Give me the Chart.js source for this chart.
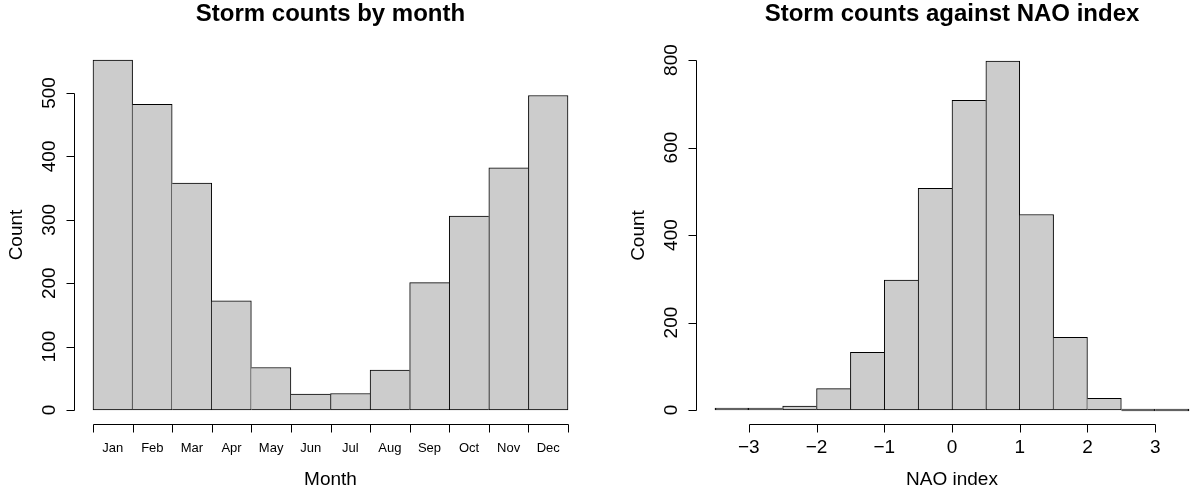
<!DOCTYPE html>
<html lang="en">
<head>
  <meta charset="UTF-8" />
  <title>Storm counts</title>
  <script src="https://cdn.jsdelivr.net/npm/chart.js"></script>
  <style>
    html, body { margin: 0; padding: 0; overflow: hidden; background: #fff; width: 1190px; height: 491px; }
    canvas { position: absolute; top: 0; }
    #monthChart { left: 0; }
    #naoChart { left: 595px; }
  </style>
</head>
<body>
  <canvas id="monthChart" width="595" height="491"></canvas>
  <canvas id="naoChart" width="640" height="491"></canvas>

  <script>
    // left panel: storms per month
    const months = ['Jan', 'Feb', 'Mar', 'Apr', 'May', 'Jun', 'Jul', 'Aug', 'Sep', 'Oct', 'Nov', 'Dec'];
    const monthCounts = [552, 482, 358, 172, 67, 25, 26, 63, 201, 306, 382, 496];
    const monthBreaks = [0, 1, 2, 3, 4, 5, 6, 7, 8, 9, 10, 11, 12];
    const monthYTicks = [0, 100, 200, 300, 400, 500];

    // right panel: storms against NAO index
    const naoBreaks = [-3.5, -3, -2.5, -2, -1.5, -1, -0.5, 0, 0.5, 1, 1.5, 2, 2.5, 3, 3.5];
    const naoCounts = [2, 2, 9, 49, 132, 297, 507, 708, 798, 447, 166, 27, 0, 0];
    const naoXTicks = [-3, -2, -1, 0, 1, 2, 3];
    const naoYTicks = [0, 200, 400, 600, 800];

    const FONT = '"Liberation Sans", Arial, Helvetica, sans-serif';

    function histPoints(breaks, counts) {
      return counts.map((c, i) => ({ x: (breaks[i] + breaks[i + 1]) / 2, y: c }));
    }

    // R draws each cell as a rectangle, so a shared edge should only be one line
    function edgeWidths(counts) {
      return ctx => {
        const i = ctx.dataIndex, c = counts[i];
        return {
          top: 1,
          bottom: 1,
          left: (i === 0 || c > counts[i - 1]) ? 1 : 0,
          right: (i === counts.length - 1 || c >= counts[i + 1]) ? 1 : 0
        };
      };
    }

    // R-style range padding (4% each side)
    function pad(lo, hi) {
      const d = (hi - lo) * 0.04;
      return [lo - d, hi + d];
    }

    function minus(v) {
      return v < 0 ? '\u2212' + Math.abs(v) : String(v);
    }

    const rAxes = {
      id: 'rAxes',
      afterDraw(chart, args, o) {
        const { ctx, chartArea: a, scales: { x, y } } = chart;
        ctx.save();
        ctx.strokeStyle = '#000';
        ctx.fillStyle = '#000';
        ctx.lineWidth = 1;

        const cx = (a.left + a.right) / 2;
        ctx.font = 'bold 24px ' + FONT;
        ctx.textAlign = 'center';
        ctx.textBaseline = 'alphabetic';
        ctx.fillText(o.title, cx, 21);

        // y axis
        const ax = Math.round(a.left) + 0.5;
        const yp = v => Math.round(y.getPixelForValue(v)) + 0.5;
        ctx.beginPath();
        ctx.moveTo(ax, yp(o.yTicks[0]));
        ctx.lineTo(ax, yp(o.yTicks[o.yTicks.length - 1]));
        o.yTicks.forEach(v => { ctx.moveTo(ax, yp(v)); ctx.lineTo(ax - 8, yp(v)); });
        ctx.stroke();

        ctx.font = '19px ' + FONT;
        ctx.textBaseline = 'middle';
        o.yTicks.forEach(v => {
          ctx.save();
          ctx.translate(ax - 25, y.getPixelForValue(v));
          ctx.rotate(-Math.PI / 2);
          ctx.fillText(String(v), 0, 0);
          ctx.restore();
        });
        ctx.save();
        ctx.translate(ax - 58, (a.top + a.bottom) / 2);
        ctx.rotate(-Math.PI / 2);
        ctx.fillText(o.yTitle, 0, 0);
        ctx.restore();

        // x axis
        const ay = Math.round(a.bottom) + 0.5;
        const xp = v => Math.round(x.getPixelForValue(v)) + 0.5;
        ctx.beginPath();
        ctx.moveTo(xp(o.xTicks[0]), ay);
        ctx.lineTo(xp(o.xTicks[o.xTicks.length - 1]), ay);
        o.xTicks.forEach(v => { ctx.moveTo(xp(v), ay); ctx.lineTo(xp(v), ay + 8); });
        ctx.stroke();

        ctx.font = o.xLabelSize + 'px ' + FONT;
        o.xLabels.forEach(l => ctx.fillText(l.text, x.getPixelForValue(l.at), 448));

        ctx.font = '19px ' + FONT;
        ctx.fillText(o.xTitle, cx, 480);
        ctx.restore();
      }
    };

    function makeHist(id, breaks, counts, pads, axes) {
      const [xmin, xmax] = pad(breaks[0], breaks[breaks.length - 1]);
      const [ymin, ymax] = pad(0, Math.max(...counts));
      return new Chart(document.getElementById(id), {
        type: 'bar',
        data: {
          datasets: [{
            data: histPoints(breaks, counts),
            backgroundColor: '#cccccc',
            borderColor: '#000000',
            borderWidth: edgeWidths(counts),
            borderSkipped: false,
            minBarLength: 2,
            barPercentage: 1,
            categoryPercentage: 1
          }]
        },
        options: {
          responsive: false,
          animation: false,
          devicePixelRatio: 1,
          events: [],
          layout: { padding: pads },
          scales: {
            x: { type: 'linear', min: xmin, max: xmax, offset: false, display: false },
            y: { type: 'linear', min: ymin, max: ymax, display: false }
          },
          plugins: {
            legend: { display: false },
            tooltip: { enabled: false },
            rAxes: axes
          }
        },
        plugins: [rAxes]
      });
    }

    makeHist('monthChart', monthBreaks, monthCounts,
      { left: 74, right: 8, top: 46, bottom: 67 },
      {
        title: 'Storm counts by month',
        xTitle: 'Month',
        yTitle: 'Count',
        yTicks: monthYTicks,
        xTicks: monthBreaks,
        xLabels: months.map((m, i) => ({ text: m, at: i + 0.5 })),
        xLabelSize: 13
      });

    makeHist('naoChart', naoBreaks, naoCounts,
      { left: 101, right: 27, top: 47, bottom: 67 },
      {
        title: 'Storm counts against NAO index',
        xTitle: 'NAO index',
        yTitle: 'Count',
        yTicks: naoYTicks,
        xTicks: naoXTicks,
        xLabels: naoXTicks.map(v => ({ text: minus(v), at: v })),
        xLabelSize: 19
      });
  </script>
</body>
</html>
